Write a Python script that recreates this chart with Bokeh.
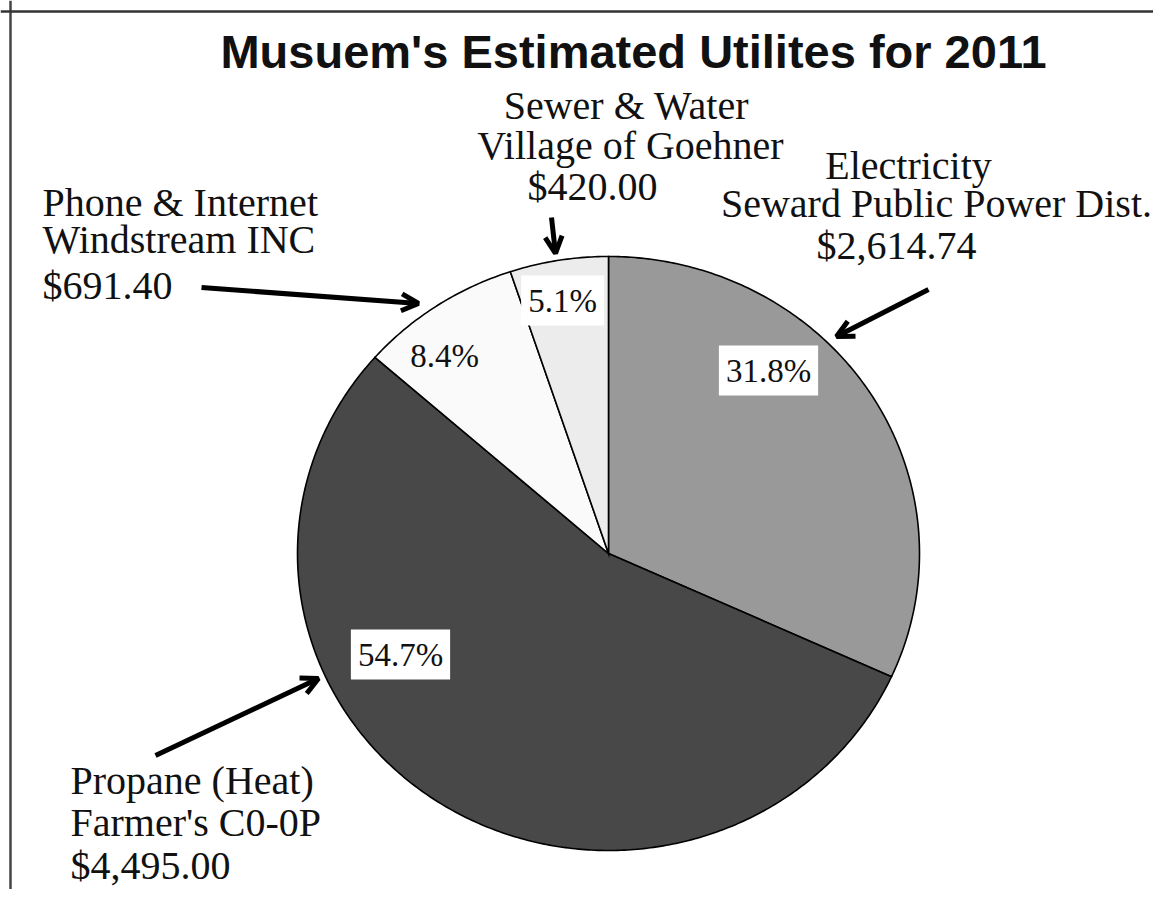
import numpy as np
from bokeh.plotting import figure
from bokeh.models import Range1d, Arrow, OpenHead, Span, ColumnDataSource
from bokeh.core.properties import value
from bokeh.embed import file_html
from bokeh.resources import INLINE

# ---------------- data ----------------
title_text = "Musuem's Estimated Utilites for 2011"
categories = ["Electricity", "Propane (Heat)", "Phone & Internet", "Sewer & Water"]
providers = ["Seward Public Power Dist.", "Farmer's C0-0P", "Windstream INC", "Village of Goehner"]
amounts = [2614.74, 4495.00, 691.40, 420.00]
colors = ["#999999", "#484848", "#fafafa", "#ececec"]

# ---------------- layout ----------------
W, H = 1153, 889

p = figure(width=W, height=H, x_range=Range1d(0, W), y_range=Range1d(H, 0),
           output_backend="svg", toolbar_location=None, min_border=0)
p.axis.visible = False
p.grid.visible = False
p.outline_line_color = None
p.background_fill_color = "white"
p.border_fill_color = "white"

# frame lines (left + top)
p.add_layout(Span(location=10, dimension="height", line_color="#444444", line_width=2.5))
p.add_layout(Span(location=11, dimension="width", line_color="#333333", line_width=2.5))

# ---------------- pie (slightly elliptical) ----------------
cx, cy = 608, 553
rx, ry = 311, 297
total = float(sum(amounts))
fracs = [a / total for a in amounts]
starts = np.concatenate([[0.0], np.cumsum(fracs)[:-1]])
xs, ys = [], []
for s, f in zip(starts, fracs):
    t = np.linspace(s, s + f, max(int(f * 600), 10)) * 2 * np.pi
    xs.append([cx] + list(cx + rx * np.sin(t)) + [cx])
    ys.append([cy] + list(cy - ry * np.cos(t)) + [cy])
src = ColumnDataSource(dict(xs=xs, ys=ys, color=colors, cat=categories))
p.patches("xs", "ys", source=src, fill_color="color", line_color="black",
          line_width=1.6, line_join="miter")

# percent labels (white boxes)
pct_pos = [(768, 370), (400, 654), (444, 355), (562, 300)]
pct_box_alpha = [1.0, 1.0, 0.0, 1.0]
pct_src = ColumnDataSource(dict(
    x=[q[0] for q in pct_pos], y=[q[1] for q in pct_pos],
    text=[f"{f * 100:.1f}%" for f in fracs], ba=pct_box_alpha))
p.text("x", "y", text="text", source=pct_src, text_align="center", text_baseline="middle",
       text_font=value("Liberation Serif"), text_font_size="33px", text_color="#111111",
       background_fill_color="white", background_fill_alpha="ba", padding=7)

# title
p.text(x=[633], y=[51], text=[title_text], text_align="center", text_baseline="middle",
       text_font=value("Liberation Sans"), text_font_style="bold", text_font_size="47px",
       text_color="#111111")

# category labels: (category, provider, amount) lines, vertical centres
label_lines = {
    0: [(908, 165), (936, 203), (896, 245)],
    3: [(626, 105), (630, 145), (592, 186)],
}
left_lines = {
    2: [(42, 202), (42, 239), (42, 285)],
    1: [(70, 780), (70, 822), (70, 865)],
}


def lines_for(i):
    return [categories[i], providers[i], f"${amounts[i]:,.2f}"]


cx_l, cy_l, ct_l = [], [], []
for i, pos in label_lines.items():
    for (lx, ly), t in zip(pos, lines_for(i)):
        cx_l.append(lx); cy_l.append(ly); ct_l.append(t)
p.text(x=cx_l, y=cy_l, text=ct_l, text_align="center", text_baseline="middle",
       text_font=value("Liberation Serif"), text_font_size="40px", text_color="#111111")

lx_l, ly_l, lt_l = [], [], []
for i, pos in left_lines.items():
    for (lx, ly), t in zip(pos, lines_for(i)):
        lx_l.append(lx); ly_l.append(ly); lt_l.append(t)
p.text(x=lx_l, y=ly_l, text=lt_l, text_align="left", text_baseline="middle",
       text_font=value("Liberation Serif"), text_font_size="40px", text_color="#111111")

# arrows
arrows = [
    ((551, 217), (555, 253)),   # sewer
    ((201, 287), (418, 303)),   # phone
    ((928, 289), (836, 336)),   # electricity
    ((155, 755), (318, 678)),   # propane
]
for (x0, y0), (x1, y1) in arrows:
    p.add_layout(Arrow(end=OpenHead(size=17, line_width=5, line_color="black"),
                       x_start=x0, y_start=y0, x_end=x1, y_end=y1,
                       line_width=5, line_color="black"))

open("out.html", "w").write(file_html(p, INLINE))
